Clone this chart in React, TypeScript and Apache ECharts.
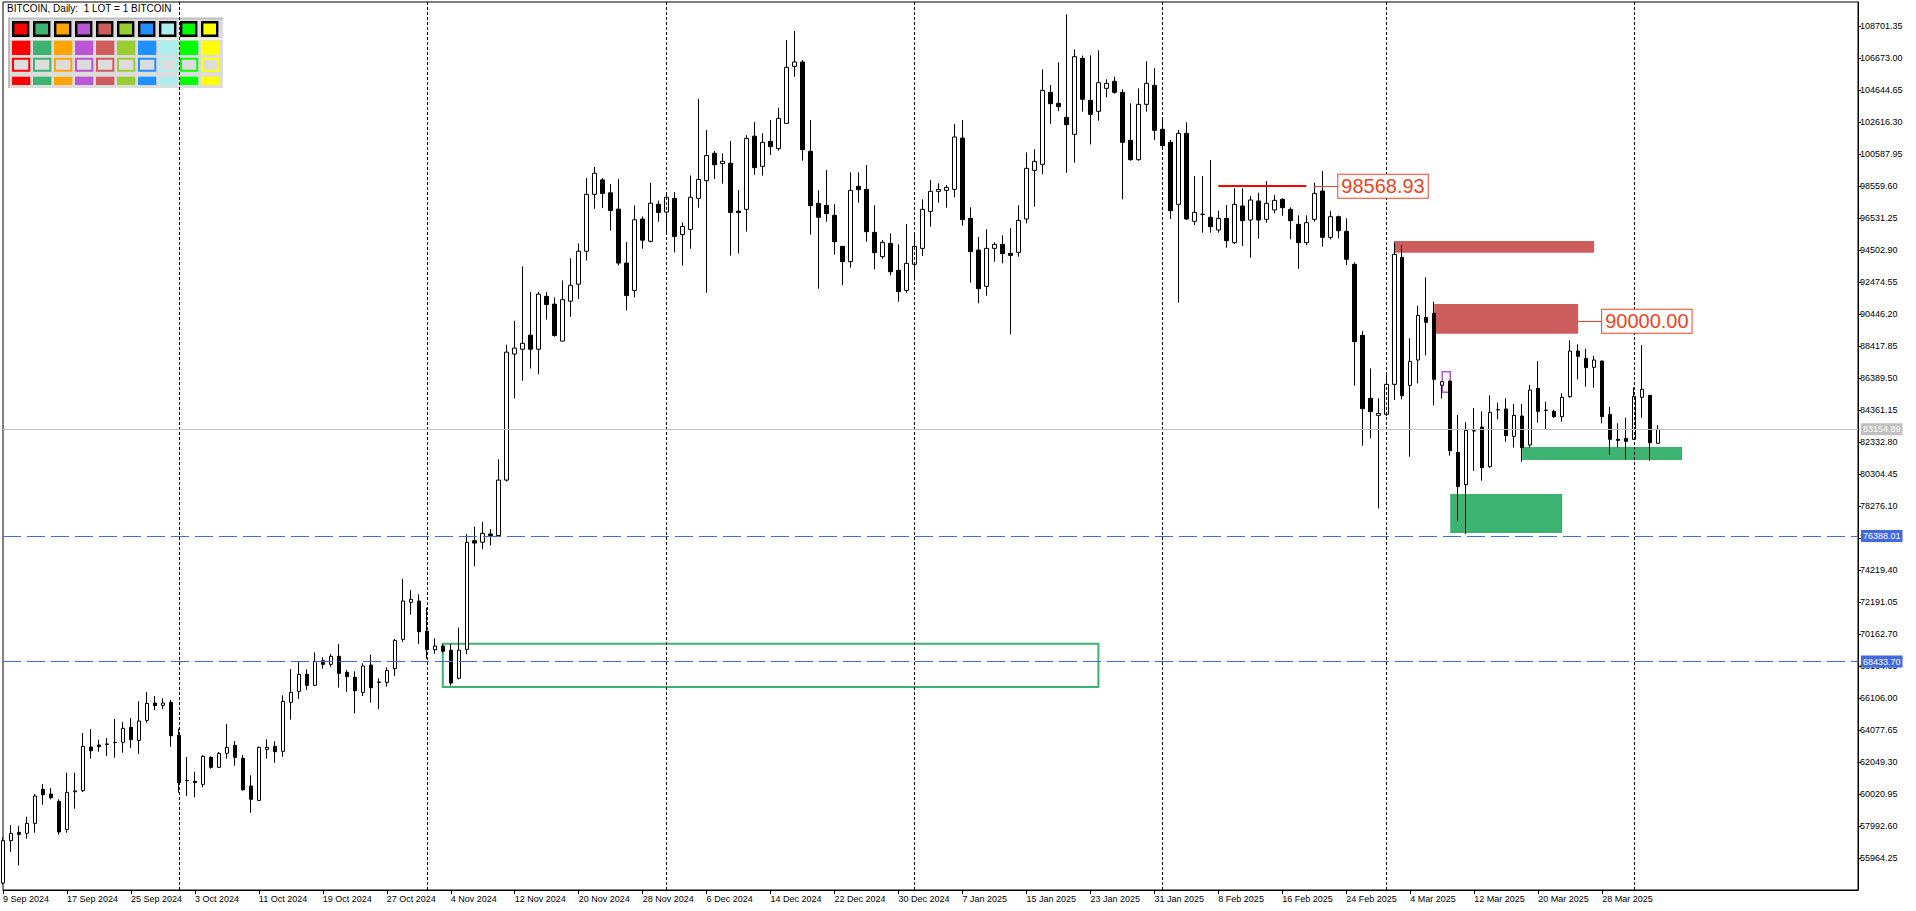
import React, { useEffect, useRef } from "react";
import * as echarts from "echarts";

// ---------------- data ----------------
const START_DATE = [2024, 8, 9]; // 9 Sep 2024 (month is 0-based)
const FUTURE_SLOTS = 25; // empty days to the right of the last bar

// daily OHLC, bar 0 = 9 Sep 2024 ... bar 207 = 4 Apr 2025
const OPEN = [
  54398, 57083, 57610, 57548, 58182, 60337, 60042, 59576, 57801, 60180,
  60253, 63020, 63147, 63189, 63300, 63316, 64267, 63443, 64711, 65809,
  65661, 65851, 63760, 60887, 60844, 60654, 62365, 61731, 62619, 63126,
  62302, 60548, 59640, 62873, 63062, 62745, 65851, 66549, 67627, 66930,
  68493, 68260, 68768, 67753, 67437, 66486, 68218, 67140, 67119, 67986,
  69845, 72190, 72275, 70373, 69190, 69418, 69161, 67380, 69209, 76097,
  76002, 76520, 76425, 79941, 87931, 88236, 89126, 88236, 91587, 91094,
  88751, 91282, 92359, 94445, 98054, 98968, 98148, 97116, 93696, 91961,
  96484, 95078, 97421, 96929, 97796, 95500, 95828, 97796, 98919, 100655,
  99996, 100022, 96990, 97102, 101740, 99827, 101411, 100947, 102552, 106165,
  106440, 100778, 97481, 97354, 96721, 94756, 93784, 98559, 98368, 95643,
  94101, 94946, 93235, 91967, 93615, 94629, 96974, 98242, 98305, 98368,
  101623, 96531, 94523, 92220, 94629, 94882, 94312, 94375, 96488, 99573,
  99954, 104518, 103820, 102933, 101855, 106672, 104011, 103313, 104771, 105215,
  104518, 101475, 100249, 103757, 104961, 102172, 101348, 97418, 101919, 96341,
  96790, 96594, 95792, 96531, 94989, 97313, 96425, 97630, 96468, 97059,
  97735, 97101, 96151, 94989, 96468, 98264, 95327, 96637, 95707, 93615,
  89114, 85121, 84044, 84108, 86009, 94059, 85945, 87551, 90255, 90508,
  85950, 86220, 81698, 79649, 83051, 83304, 80790, 84390, 84445, 82712,
  84001, 82163, 85755, 84361, 84297, 83959, 85227, 88122, 87657, 87086,
  87488, 84107, 82522, 82586, 82522, 85185, 85311, 82269,
];
const HIGH = [
  57300, 58077, 58013, 58605, 60042, 60675, 60422, 59703, 61394, 61394,
  63907, 64161, 63485, 63591, 64796, 64605, 64859, 65915, 66507, 66253,
  66105, 66000, 64182, 62386, 61457, 62513, 62429, 62700, 64478, 63401,
  62513, 61225, 63050, 63506, 63380, 66296, 67965, 68430, 67944, 69021,
  68704, 68916, 69549, 67901, 67817, 68324, 68873, 67373, 68070, 69866,
  73669, 72972, 72698, 71852, 69908, 69535, 69535, 70590, 76520, 76988,
  77292, 76830, 81252, 88516, 90040, 93485, 91868, 91868, 91868, 91516,
  92594, 94000, 94937, 99085, 99788, 99085, 98710, 99015, 95031, 97351,
  96648, 98780, 97655, 98148, 98195, 96273, 99249, 104095, 102131, 100796,
  100651, 101428, 98320, 101800, 102640, 101918, 102764, 103545, 107835, 108405,
  106567, 102764, 98305, 99594, 97418, 94756, 99446, 99446, 99911, 97354,
  95157, 95580, 94882, 96171, 95580, 97735, 98961, 98749, 98643, 102510,
  102764, 97227, 95347, 95833, 95009, 95453, 95897, 97354, 100714, 100904,
  105975, 104982, 106419, 109462, 107243, 106842, 106863, 107180, 105341, 105510,
  104707, 103820, 104771, 106482, 106039, 102764, 101496, 102130, 102616, 99214,
  99214, 100229, 97017, 97376, 98433, 98433, 97946, 98158, 98898, 98010,
  97799, 97228, 96721, 96721, 98792, 99531, 96996, 96700, 96531, 93742,
  89389, 87023, 85121, 86601, 95010, 94840, 88926, 90994, 92791, 91249,
  86200, 86220, 84065, 83600, 84508, 84297, 85312, 84846, 85122, 84762,
  84762, 85967, 87488, 84910, 84403, 85438, 88798, 88544, 88270, 87805,
  87500, 84593, 83537, 83896, 85819, 88502, 85311, 83431,
];
const LOW = [
  54300, 56386, 55507, 57210, 57590, 59364, 59703, 57463, 57590, 59111,
  60168, 62281, 62724, 62450, 62344, 62661, 62957, 62577, 64563, 65365,
  65408, 63041, 60126, 59914, 59830, 60464, 61647, 61700, 62281, 61837,
  60253, 58858, 59600, 62281, 62027, 62407, 64753, 66063, 66634, 66900,
  67986, 68113, 66782, 66528, 65154, 66253, 65830, 65429, 66845, 67521,
  69676, 71409, 69549, 68620, 68937, 68980, 66911, 67310, 68903, 74480,
  75574, 75800, 76425, 79847, 85119, 86244, 87017, 86642, 90110, 89032,
  88751, 90298, 91422, 93860, 97140, 97180, 95758, 93555, 90696, 91516,
  94609, 95008, 96320, 95617, 94375, 93532, 94609, 97200, 91821, 99015,
  98729, 94164, 94305, 95687, 99299, 99235, 100545, 100820, 102510, 105510,
  100186, 95495, 92072, 96319, 94228, 92305, 93404, 97523, 95052, 93298,
  93974, 92918, 91248, 91819, 92580, 94143, 96002, 97523, 97206, 97861,
  96066, 92453, 91142, 91628, 93784, 93678, 89178, 94101, 96213, 97270,
  99319, 102531, 103334, 99425, 100059, 103292, 101221, 102721, 104201, 104433,
  97735, 100186, 100186, 103292, 101496, 100968, 96489, 91185, 96425, 96108,
  95622, 95622, 95622, 94672, 94904, 94777, 94038, 95242, 96256, 96848,
  96700, 95200, 93340, 94820, 96320, 94735, 95200, 95263, 93573, 85924,
  82121, 82586, 78148, 84002, 85015, 85058, 81424, 86073, 87847, 84677,
  85121, 81487, 77367, 76522, 80515, 79903, 80727, 83790, 82374, 81994,
  81106, 82015, 83579, 83114, 83896, 83642, 85164, 86326, 85861, 85797,
  83537, 81550, 82015, 81254, 82480, 83896, 81170, 82269,
];
const CLOSE = [
  57083, 57548, 57484, 58182, 59915, 60000, 59809, 57632, 60147, 60240,
  63062, 62788, 63041, 63210, 63316, 64203, 63485, 64668, 65788, 65640,
  65809, 63739, 60760, 60900, 60760, 62429, 61731, 62619, 62999, 62365,
  60316, 59703, 62999, 62999, 62724, 65915, 66486, 67627, 66930, 68451,
  68260, 68768, 67690, 67479, 66592, 68155, 66782, 67119, 67880, 69781,
  72275, 72381, 70331, 69190, 69422, 69091, 67075, 69161, 75994, 75947,
  76565, 76425, 79941, 88048, 88306, 88610, 88236, 91727, 91071, 89102,
  91375, 92289, 94445, 98054, 99390, 98101, 97023, 93696, 91633, 96437,
  95148, 97492, 96906, 97867, 95383, 96015, 97867, 98991, 100514, 99929,
  100144, 96906, 96900, 101602, 99743, 101348, 101073, 102869, 106102, 106440,
  100883, 97333, 96594, 96826, 95052, 93784, 98305, 98347, 95686, 94354,
  95009, 93150, 91883, 93678, 94756, 97101, 98242, 98368, 98495, 101686,
  96446, 94418, 92072, 94629, 94882, 94291, 94185, 96403, 99700, 100144,
  104644, 103799, 103609, 102468, 106778, 104074, 103123, 105130, 105088, 104518,
  101348, 100249, 103757, 105088, 102108, 101137, 97017, 101919, 96489, 96911,
  96784, 96003, 96531, 95115, 97418, 96383, 97693, 96425, 97482, 97672,
  97207, 96383, 94989, 96256, 98116, 95327, 96637, 95749, 93932, 88714,
  84466, 84276, 84170, 86009, 94249, 85290, 87466, 90381, 89938, 86325,
  86180, 81804, 79522, 83093, 83070, 80727, 84234, 84403, 82755, 84044,
  81994, 85650, 84297, 84370, 83959, 85185, 88122, 87784, 87065, 87551,
  83959, 82522, 82459, 82396, 85248, 85692, 82311, 83154.89,
];

// price axis
const Y_TICKS = [
  55964.25, 57992.6, 60020.95, 62049.3, 64077.65, 66106.0, 68134.35, 70162.7,
  72191.05, 74219.4, 76247.75, 78276.1, 80304.45, 82332.8, 84361.15, 86389.5,
  88417.85, 90446.2, 92474.55, 94502.9, 96531.25, 98559.6, 100587.95,
  102616.3, 104644.65, 106673.0, 108701.35,
];
const Y_RANGE = [53957.5, 110243.6];

// chart objects: [fromBar, toBar, upperPrice, lowerPrice]
const BID_PRICE = 83154.89;
const H_LINES = [76388.01, 68433.7];
const SUPPLY_ZONES = [
  [174, 199, 95094, 94355],
  [179, 197, 91101, 89221],
];
const DEMAND_ZONES = [
  [190, 210, 82036, 81212],
  [181, 195, 79057, 76585],
];
const OUTLINE_ZONE = [55, 137, 69561, 66817];
const MARKER_ZONE = [180, 181, 86810, 85504];
// [fromBar, toBar, price]
const TREND_LINE = [152, 163, 98568.93];
const PRICE_TAGS = [
  [164, 167, 98568.93],
  [197, 200, 90000.0],
];

const TITLE = "BITCOIN, Daily:  1 LOT = 1 BITCOIN";
const PALETTE = [
  "#FF0000", "#3CB371", "#FFA500", "#BA55D3", "#CD5C5C",
  "#9ACD32", "#1E90FF", "#AFEEEE", "#00FF00", "#FFFF00",
];
const MONTHS = ["Jan", "Feb", "Mar", "Apr", "May", "Jun", "Jul", "Aug", "Sep", "Oct", "Nov", "Dec"];

// ---------------- derived ----------------
const N_BARS = OPEN.length;
const N_SLOTS = N_BARS + FUTURE_SLOTS;
const CATS: string[] = [];
for (let i = 0; i < N_SLOTS; i++) {
  const d = new Date(Date.UTC(START_DATE[0], START_DATE[1], START_DATE[2] + i));
  CATS.push(d.toISOString().slice(0, 10));
}
const CANDLES = OPEN.map((o, i) => [o, CLOSE[i], LOW[i], HIGH[i]]);
const MONTH_STARTS = CATS.map((c, i) => (c.slice(8) === "01" && i < N_BARS ? i : -1)).filter((i) => i >= 0);

const FONT = "'Liberation Sans', Arial, sans-serif";
const TAG_COLOR = "#EE4422";

function fmtDate(c: string) {
  const [y, m, d] = c.split("-");
  return `${parseInt(d, 10)} ${MONTHS[parseInt(m, 10) - 1]} ${y}`;
}
const isLabelSlot = (i: number) => i % 8 === 0 && i < N_BARS;

function zoneData(z: number[], itemStyle: any) {
  return [
    { coord: [CATS[z[0]], z[2]], itemStyle },
    { coord: [CATS[z[1]], z[3]] },
  ];
}

function buildOption(): any {
  const graphics: any[] = [
    { type: "rect", z: 1, shape: { x: 8, y: 18, width: 215, height: 70 }, style: { fill: "#DCDCDC" } },
    { type: "rect", z: 1, shape: { x: 8, y: 17.5, width: 215, height: 2 }, style: { fill: "#BEBEBE" } },
    { type: "rect", z: 1, shape: { x: 8, y: 17.5, width: 2, height: 70.5 }, style: { fill: "#BEBEBE" } },
    { type: "rect", z: 1, shape: { x: 10, y: 38.3, width: 213, height: 1.5 }, style: { fill: "#F4F4F4" } },
  ];
  PALETTE.forEach((c, k) => {
    const x = 12 + 21 * k;
    graphics.push(
      { type: "rect", z: 1, shape: { x: x + 1.2, y: 22.2, width: 15, height: 13.5 }, style: { fill: c, stroke: "#000", lineWidth: 2.4 } },
      { type: "rect", z: 1, shape: { x, y: 40.7, width: 18.3, height: 14.3 }, style: { fill: c } },
      { type: "rect", z: 1, shape: { x: x + 1, y: 58.7, width: 16.3, height: 12 }, style: { fill: "#DCDCDC", stroke: c, lineWidth: 2 } },
      { type: "rect", z: 1, shape: { x, y: 76.7, width: 18.3, height: 8.3 }, style: { fill: c } }
    );
  });
  graphics.push({
    type: "text",
    z: 1,
    x: 7,
    y: 3.5,
    style: { text: TITLE, fill: "#000", fontSize: 10, fontFamily: FONT },
  });

  const axisLabelFont = { fontSize: 9, fontFamily: FONT, color: "#000" };

  return {
    animation: false,
    backgroundColor: "#ffffff",
    graphic: graphics,
    grid: { left: 2, right: 58, top: 2, bottom: 21, show: true, borderColor: "#000", borderWidth: 1 },
    xAxis: {
      type: "category",
      data: CATS,
      boundaryGap: false,
      axisLine: { show: true, lineStyle: { color: "#000", width: 1 } },
      axisTick: { show: true, length: 4, interval: (i: number) => isLabelSlot(i), lineStyle: { color: "#000" } },
      axisLabel: {
        show: true,
        interval: (i: number) => isLabelSlot(i),
        formatter: (v: string) => fmtDate(v),
        align: "left",
        margin: 4,
        ...axisLabelFont,
      },
      splitLine: { show: false },
    },
    yAxis: {
      type: "value",
      position: "right",
      min: Y_RANGE[0],
      max: Y_RANGE[1],
      axisLine: { show: true, onZero: false, lineStyle: { color: "#000", width: 1 } },
      axisTick: { show: true, length: 3, customValues: Y_TICKS, lineStyle: { color: "#000" } },
      axisLabel: {
        show: true,
        customValues: Y_TICKS,
        formatter: (v: number) => v.toFixed(2),
        margin: 2,
        ...axisLabelFont,
      },
      splitLine: { show: false },
    },
    series: [
      {
        name: "background objects",
        type: "line",
        data: [],
        z: 1,
        silent: true,
        markArea: {
          silent: true,
          data: [
            ...SUPPLY_ZONES.map((z) => zoneData(z, { color: "#CD5C5C", opacity: 1 })),
            ...DEMAND_ZONES.map((z) => zoneData(z, { color: "#3CB371", opacity: 1 })),
          ],
        },
        markLine: {
          silent: true,
          symbol: ["none", "none"],
          data: [
            ...MONTH_STARTS.map((i) => ({
              xAxis: CATS[i],
              lineStyle: { color: "#000", type: [3, 2], width: 1 },
              label: { show: false },
            })),
            {
              yAxis: BID_PRICE,
              lineStyle: { color: "#C0C0C0", type: "solid", width: 1 },
              label: {
                show: true,
                position: "end",
                distance: 3,
                formatter: BID_PRICE.toFixed(2),
                color: "#fff",
                backgroundColor: "#C0C0C0",
                padding: [2, 2, 1, 2],
                fontSize: 9,
                fontFamily: FONT,
              },
            },
          ],
        },
      },
      {
        name: "BITCOIN",
        type: "candlestick",
        data: CANDLES,
        z: 3,
        barWidth: 4,
        itemStyle: {
          color: "#ffffff",
          color0: "#000000",
          borderColor: "#000000",
          borderColor0: "#000000",
          borderWidth: 1,
        },
      },
      {
        name: "foreground objects",
        type: "line",
        data: [],
        z: 5,
        silent: true,
        markArea: {
          silent: true,
          data: [
            zoneData(OUTLINE_ZONE, { color: "rgba(0,0,0,0)", borderColor: "#3CB371", borderWidth: 2 }),
            zoneData(MARKER_ZONE, { color: "rgba(0,0,0,0)", borderColor: "#BA55D3", borderWidth: 1.5 }),
          ],
        },
        markLine: {
          silent: true,
          symbol: ["none", "none"],
          data: [
            ...H_LINES.map((v) => ({
              yAxis: v,
              lineStyle: { color: "#4169E1", type: [18, 6], width: 1 },
              label: {
                show: true,
                position: "end",
                distance: 3,
                formatter: v.toFixed(2),
                color: "#fff",
                backgroundColor: "#4169E1",
                padding: [2, 2, 1, 2],
                fontSize: 9,
                fontFamily: FONT,
              },
            })),
            [
              {
                coord: [CATS[TREND_LINE[0]], TREND_LINE[2]],
                lineStyle: { color: "#FF0000", type: "solid", width: 2 },
                label: { show: false },
              },
              { coord: [CATS[TREND_LINE[1]], TREND_LINE[2]] },
            ],
            ...PRICE_TAGS.map((t) => [
              {
                coord: [CATS[t[0]], t[2]],
                lineStyle: { color: TAG_COLOR, type: "solid", width: 1 },
                label: {
                  show: true,
                  position: "end",
                  distance: 0,
                  formatter: t[2].toFixed(2),
                  color: TAG_COLOR,
                  backgroundColor: "#fff",
                  borderColor: TAG_COLOR,
                  borderWidth: 1,
                  padding: [2, 3, 1, 3],
                  fontSize: 20,
                  fontFamily: FONT,
                },
              },
              { coord: [CATS[t[1]], t[2]] },
            ]),
          ],
        },
      },
    ],
  };
}

export default function App() {
  const ref = useRef<HTMLDivElement>(null);
  useEffect(() => {
    if (!ref.current) return;
    const chart = echarts.init(ref.current, null, { renderer: "svg" });
    chart.setOption(buildOption());
    return () => chart.dispose();
  }, []);
  return (
    <div
      ref={ref}
      style={{ position: "fixed", left: 0, top: 0, width: 1916, height: 911, background: "#fff" }}
    />
  );
}
